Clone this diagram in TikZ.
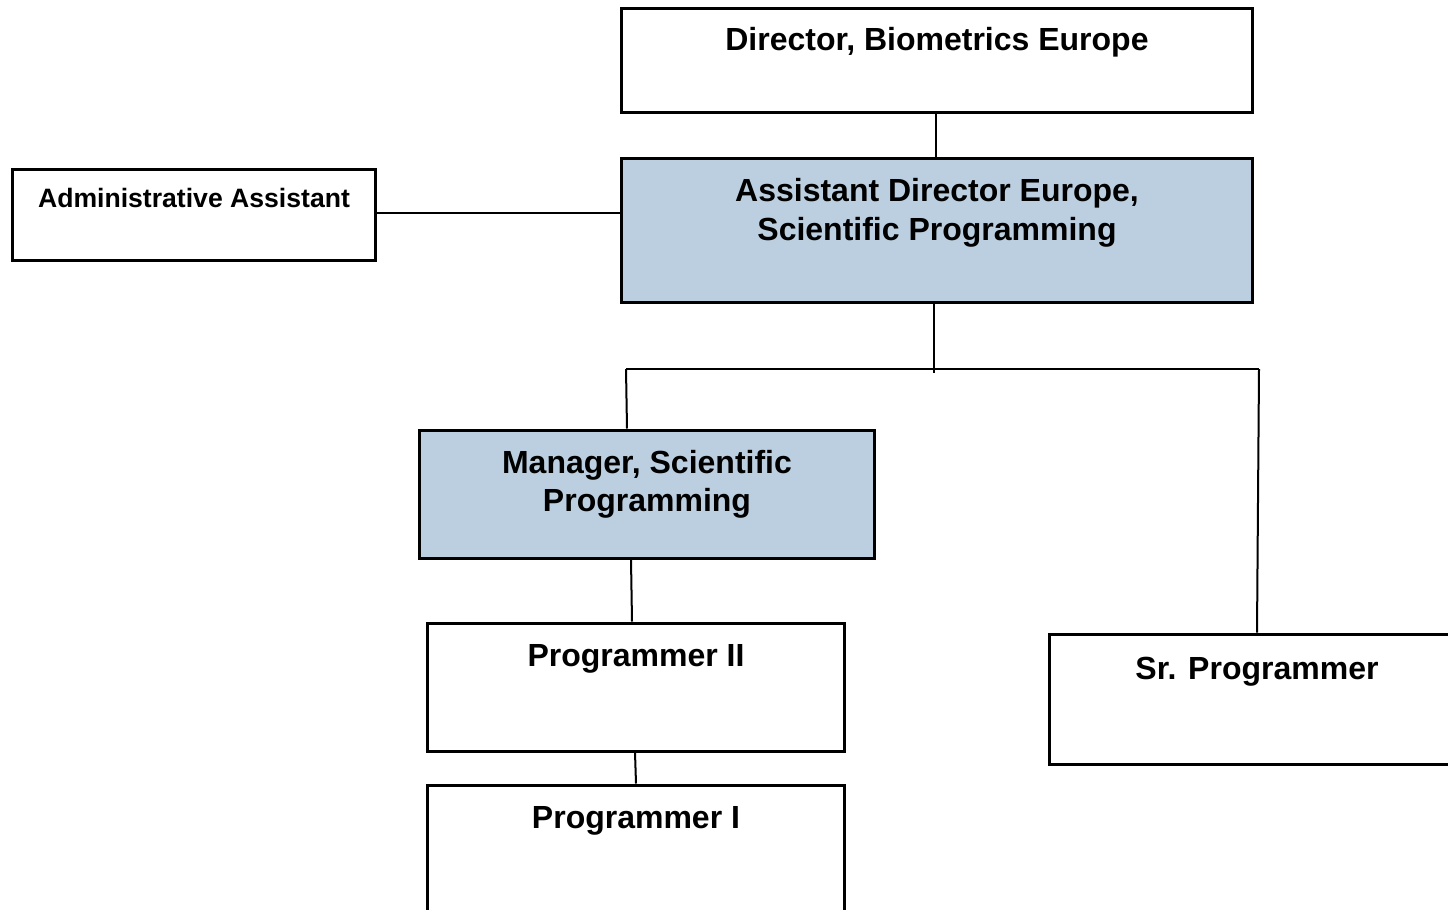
\documentclass[tikz,border=0pt]{standalone}
\usepackage{fontspec}
\setmainfont{Liberation Sans}
\begin{document}
\begin{tikzpicture}[x=1pt,y=-1pt,
  box/.style={draw=black, line width=3pt, rectangle, inner sep=0pt},
  lead/.style={fill=paleblue},
  title/.style={font=\bfseries\fontsize{32}{39}\selectfont, align=center, inner sep=0pt, anchor=base},
  small/.style={font=\bfseries\fontsize{26.6}{31}\selectfont, inner sep=0pt, anchor=base},
  link/.style={draw=black, line width=2pt}]
\definecolor{paleblue}{HTML}{BCCFE0}
\useasboundingbox (0,0) rectangle (1448,910);
\clip (0,0) rectangle (1448,910);

% boxes
\node[box, minimum width=631pt, minimum height=104pt] (dir) at (936.5,60) {};
\node[box, lead, minimum width=631pt, minimum height=144pt] (ad) at (936.5,230) {};
\node[box, minimum width=363pt, minimum height=91pt] (adm) at (193.5,214.5) {};
\node[box, lead, minimum width=455pt, minimum height=128pt] (mgr) at (646.5,494) {};
\node[box, minimum width=417pt, minimum height=128pt] (p2) at (635.5,687) {};
\node[box, minimum width=417pt, minimum height=150pt] (p1) at (635.5,860) {};
\node[box, minimum width=421pt, minimum height=130pt] (sr) at (1259.5,699) {};

% titles
\node[title] (dirT) at (937,50) {Director, Biometrics Europe};
\node[title] (adT1) at (937,201) {Assistant Director Europe,};
\node[title] (adT2) at (937,240) {Scientific Programming};
\node[small] (admT) at (194,207) {Administrative Assistant};
\node[title] (mgrT1) at (647,473) {Manager, Scientific};
\node[title] (mgrT2) at (647,511) {Programming};
\node[title] (p2T) at (636,666) {Programmer II};
\node[title] (p1T) at (636,828) {Programmer I};
\node[title] (srT) at (1257,679) {Sr. Programmer};

% reporting lines
\coordinate (bus) at (934,373);
\coordinate (busL) at (626,369);
\coordinate (busR) at (1259,369);
\draw[link] (dir.south -| 936,0) -- (ad.north -| 936,0);
\draw[link] (adm.east |- 0,213) -- (ad.west |- 0,213);
\draw[link] (ad.south -| 934,0) -- (bus);
\draw[link] (busL) -- (busR);
\draw[link] (busL) -- (mgr.north -| 627,0);
\draw[link] (busR) -- (sr.north -| 1257,0);
\draw[link] (mgr.south -| 631,0) -- (p2.north -| 632,0);
\draw[link] (p2.south -| 635,0) -- (p1.north -| 636,0);
\end{tikzpicture}
\end{document}
